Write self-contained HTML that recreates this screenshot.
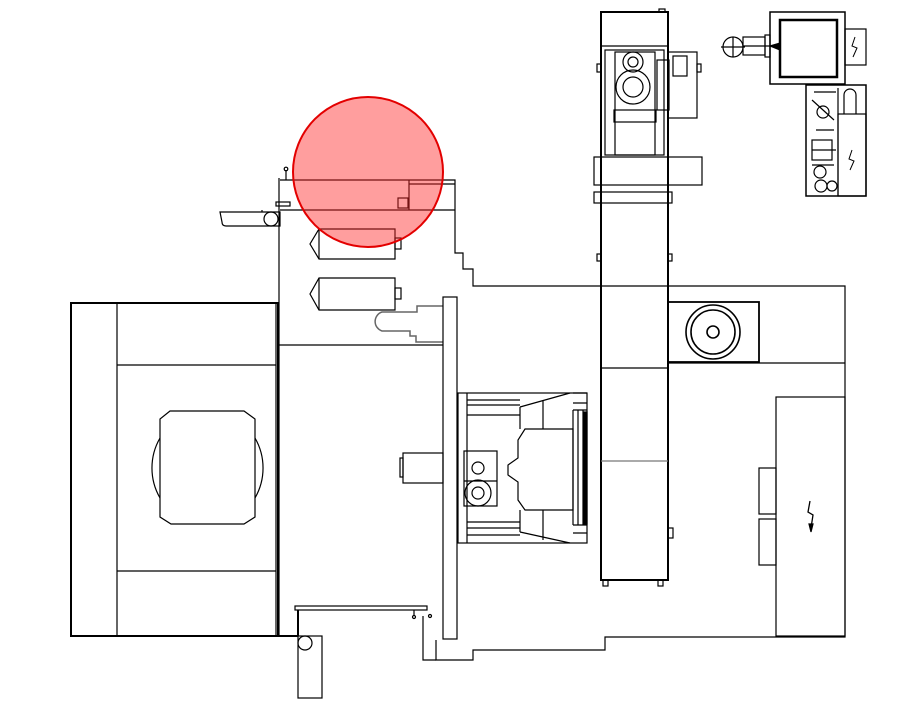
<!DOCTYPE html>
<html><head><meta charset="utf-8"><style>html,body{margin:0;padding:0;background:#fff}svg{display:block}</style></head>
<body>
<svg width="920" height="706" viewBox="0 0 920 706" xmlns="http://www.w3.org/2000/svg" fill="none" stroke="#000" stroke-width="1.2">
<!-- left machine -->
<rect x="71" y="303" width="207" height="333" stroke-width="2"/>
<line x1="117" y1="303" x2="117" y2="636"/>
<line x1="117" y1="365" x2="276" y2="365"/>
<line x1="117" y1="571" x2="276" y2="571"/>
<line x1="276" y1="303" x2="276" y2="636"/>
<path d="M170 411 H244 L255 419 V517 L244 524 H171 L160 517 V419 Z"/>
<path d="M160 438 A60 60 0 0 0 160 498"/>
<path d="M255 438 A60 60 0 0 1 255 498"/>
<line x1="71" y1="636" x2="298" y2="636" stroke-width="2"/>
<!-- main frame -->
<line x1="279" y1="178" x2="279" y2="636"/>
<line x1="286" y1="170" x2="286" y2="180"/>
<circle cx="286" cy="169" r="1.8"/>
<rect x="276" y="202" width="14" height="4"/>
<path d="M280 180 H455 V253 H463 V269 H473 V286 H845 V637 H605 V650 H473 V660 H436 V640"/>
<line x1="280" y1="210" x2="455" y2="210"/>
<line x1="409" y1="180" x2="409" y2="210"/>
<line x1="409" y1="184" x2="455" y2="184"/>
<rect x="398" y="198" width="10" height="10"/>
<line x1="279" y1="345" x2="443" y2="345"/>
<path d="M220 212 H280 V226 H226 Q222 226 222 222 Z"/>
<circle cx="271" cy="219" r="7"/>
<line x1="262" y1="212" x2="262" y2="210"/>
<!-- cylinders -->
<path d="M319 229 H395 V259 H319 L310 244 Z"/><line x1="319" y1="229" x2="319" y2="259"/>
<rect x="395" y="238" width="6" height="11"/>
<path d="M319 278 H395 V310 H319 L310 294 Z"/><line x1="319" y1="278" x2="319" y2="310"/>
<rect x="395" y="288" width="6" height="11"/>
<path d="M443 306 H417 V312 H382 A10 10 0 0 0 382 331 H410 V336 H416 V342 H443" stroke="#666" stroke-width="1.5"/>
<!-- plate -->
<rect x="443" y="297" width="14" height="342"/>
<!-- nozzle -->
<rect x="403" y="453" width="40" height="30"/>
<rect x="400" y="458" width="3" height="19"/>
<!-- mold -->
<rect x="458" y="393" width="129" height="150"/>
<line x1="467" y1="393" x2="467" y2="543"/>
<path d="M467 400 H520 M467 405 H520 M467 415 H520 M467 528 H520 M467 535 H520 M467 522 H520"/>
<path d="M520 407 L570 393 M520 532 L570 543 M520 407 V429 M520 510 V532"/>
<path d="M543 400 V429 M543 510 V540"/>
<path d="M525 429 H573 V510 H525 L518 500 V482 L508 475 V465 L518 458 V440 Z"/>
<path d="M573 410 V525 M578 410 V525 M583 410 V525"/>
<rect x="584" y="412" width="3" height="112" fill="#000"/>
<path d="M573 393 H587 M573 403 H587 M573 410 H587 M573 525 H587 M573 533 H587"/>
<rect x="464" y="451" width="33" height="55"/>
<line x1="464" y1="481" x2="497" y2="481"/>
<circle cx="478" cy="468" r="6"/>
<circle cx="478" cy="493" r="13"/><circle cx="478" cy="493" r="6"/>
<!-- bottom table -->
<rect x="295" y="606" width="132" height="4"/>
<line x1="298" y1="610" x2="298" y2="636" stroke-width="2"/>
<rect x="298" y="636" width="24" height="62"/>
<circle cx="305" cy="643" r="7"/>
<line x1="414" y1="610" x2="414" y2="616"/><circle cx="414" cy="617" r="1.5"/>
<circle cx="430" cy="616" r="1.5"/>
<path d="M423 616 V660 H436"/>
<!-- tall column -->
<rect x="601" y="12" width="67" height="568" stroke-width="2"/>
<line x1="601" y1="46" x2="668" y2="46"/>
<rect x="659" y="9" width="6" height="3"/>
<rect x="605" y="50" width="59" height="105"/>
<rect x="615" y="52" width="40" height="103"/>
<circle cx="633" cy="62" r="10"/><circle cx="633" cy="62" r="5"/>
<circle cx="633" cy="87" r="17"/><circle cx="633" cy="87" r="10"/>
<rect x="614" y="110" width="42" height="12"/>
<rect x="657" y="60" width="12" height="50"/>
<rect x="668" y="52" width="29" height="66"/>
<rect x="673" y="56" width="14" height="20"/>
<rect x="597" y="64" width="4" height="8"/><rect x="697" y="64" width="4" height="8"/>
<rect x="594" y="157" width="108" height="28"/>
<line x1="668" y1="157" x2="668" y2="185"/>
<rect x="594" y="192" width="78" height="11"/>
<line x1="601" y1="368" x2="668" y2="368"/>
<line x1="601" y1="461" x2="668" y2="461" stroke="#777"/>
<rect x="597" y="254" width="4" height="7"/><rect x="668" y="254" width="4" height="7"/>
<rect x="668" y="528" width="5" height="10"/>
<rect x="603" y="580" width="5" height="6"/><rect x="658" y="580" width="5" height="6"/>
<!-- pump -->
<rect x="668" y="302" width="91" height="60" stroke-width="1.8"/>
<circle cx="713" cy="332" r="27" stroke-width="1.6"/><circle cx="713" cy="332" r="22" stroke-width="1.6"/><circle cx="713" cy="332" r="6" stroke-width="1.6"/>
<line x1="668" y1="363" x2="845" y2="363"/>
<!-- cabinet -->
<rect x="776" y="397" width="69" height="239"/>
<rect x="759" y="468" width="17" height="46"/><rect x="759" y="519" width="17" height="46"/>
<path d="M810 501 L808 512 L813 515 L811 528" stroke-width="1.3"/>
<path d="M809 524 L813 524 L811 532 Z" fill="#000"/>
<!-- top right -->
<rect x="770" y="12" width="75" height="72" stroke-width="1.5"/>
<rect x="780" y="20" width="57" height="57" stroke-width="2.5"/>
<rect x="845" y="29" width="21" height="36"/>
<path d="M855 37 L852 46 L857 48 L853 57" stroke-width="1"/>
<rect x="743" y="37" width="22" height="18"/><line x1="743" y1="46" x2="778" y2="46"/>
<rect x="765" y="35" width="5" height="22"/>
<circle cx="733" cy="47" r="10"/><line x1="721" y1="47" x2="745" y2="47"/><line x1="733" y1="37" x2="733" y2="57"/>
<path d="M770 46 L780 43 V50 Z" fill="#000"/>
<rect x="806" y="85" width="60" height="111" stroke-width="1.5"/>
<rect x="838" y="114" width="28" height="82"/>
<path d="M844 114 V95 A6 6 0 0 1 856 95 V114"/>
<line x1="838" y1="88" x2="838" y2="196"/>
<path d="M814 92 H836 M812 100 L834 120 M816 130 H834 M812 150 H836 M812 165 H834"/>
<circle cx="823" cy="112" r="6"/><circle cx="820" cy="172" r="6"/><circle cx="821" cy="186" r="6"/><circle cx="832" cy="186" r="5"/>
<rect x="812" y="140" width="20" height="20"/>
<path d="M852 150 L849 159 L854 161 L850 170" stroke-width="1"/>
<!-- highlight -->
<circle cx="368" cy="172" r="75" fill="rgba(255,40,40,0.45)" stroke="#e30000" stroke-width="2"/>
</svg>
</body></html>
